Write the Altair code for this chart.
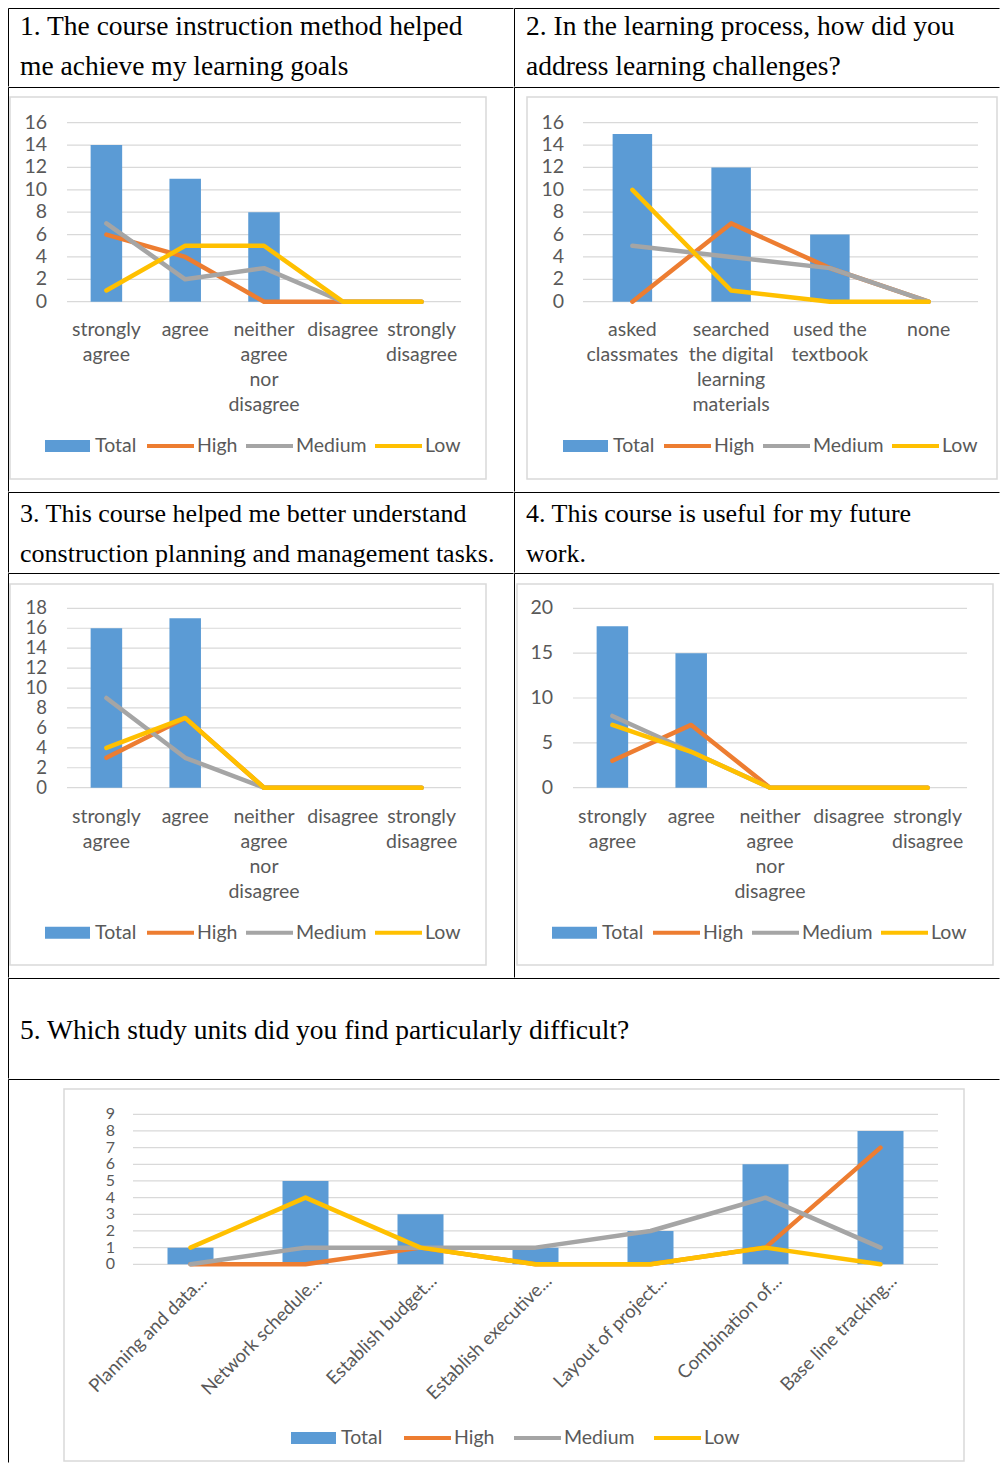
import altair as alt
import pandas as pd

FONT_SANS = "Lato"
FONT_SERIF = "Liberation Serif"
LABEL_COLOR = "#595959"
GRID_COLOR = "#d9d9d9"
SERIES_COLORS = ["#5B9BD5", "#ED7D31", "#A5A5A5", "#FFC000"]
LINE_SERIES = ["High", "Medium", "Low"]

# ---------------- titles ----------------
title_1 = ["1. The course instruction method helped", "me achieve my learning goals"]
title_2 = ["2. In the learning process, how did you", "address learning challenges?"]
title_3 = ["3. This course helped me better understand", "construction planning and management tasks."]
title_4 = ["4. This course is useful for my future", "work."]
title_5 = ["5. Which study units did you find particularly difficult?"]

# ---------------- data ----------------
likert_categories = ["strongly agree", "agree", "neither agree nor disagree", "disagree", "strongly disagree"]
likert_labels = ["strongly\nagree", "agree", "neither\nagree\nnor\ndisagree", "disagree", "strongly\ndisagree"]

q1_total = [14, 11, 8, 0, 0]
q1_high = [6, 4, 0, 0, 0]
q1_medium = [7, 2, 3, 0, 0]
q1_low = [1, 5, 5, 0, 0]
q1_ticks = [0, 2, 4, 6, 8, 10, 12, 14, 16]

q2_categories = ["asked classmates", "searched the digital learning materials", "used the textbook", "none"]
q2_labels = ["asked\nclassmates", "searched\nthe digital\nlearning\nmaterials", "used the\ntextbook", "none"]
q2_total = [15, 12, 6, 0]
q2_high = [0, 7, 3, 0]
q2_medium = [5, 4, 3, 0]
q2_low = [10, 1, 0, 0]
q2_ticks = [0, 2, 4, 6, 8, 10, 12, 14, 16]

q3_total = [16, 17, 0, 0, 0]
q3_high = [3, 7, 0, 0, 0]
q3_medium = [9, 3, 0, 0, 0]
q3_low = [4, 7, 0, 0, 0]
q3_ticks = [0, 2, 4, 6, 8, 10, 12, 14, 16, 18]

q4_total = [18, 15, 0, 0, 0]
q4_high = [3, 7, 0, 0, 0]
q4_medium = [8, 4, 0, 0, 0]
q4_low = [7, 4, 0, 0, 0]
q4_ticks = [0, 5, 10, 15, 20]

q5_categories = ["Planning and data...", "Network schedule...", "Establish budget...",
                 "Establish executive...", "Layout of project...", "Combination of...",
                 "Base line tracking..."]
q5_total = [1, 5, 3, 1, 2, 6, 8]
q5_high = [0, 0, 1, 0, 0, 1, 7]
q5_medium = [0, 1, 1, 1, 2, 4, 1]
q5_low = [1, 4, 1, 0, 0, 1, 0]
q5_ticks = [0, 1, 2, 3, 4, 5, 6, 7, 8, 9]

# ---------------- layout (styles, cell coordinates) ----------------
COL1_W, COL2_W, FULL_W = 506, 486, 992
TITLE_H = [79, 81, 101]
CHART_H = [405, 405, 384]

geo_1 = dict(box=(2, 10, 478, 392), x0=59, x1=453, yb=214.7, yt=35.7, lab_r=39, cat_y=234,
             leg_y=359, leg_total=37, leg_line=139, col_pad=0)
geo_2 = dict(box=(13, 10, 483, 392), x0=69, x1=464, yb=214.7, yt=35.7, lab_r=50, cat_y=234,
             leg_y=359, leg_total=49, leg_line=150, col_pad=0)
geo_3 = dict(box=(2, 11, 478, 392), x0=59, x1=453, yb=214.7, yt=35.3, lab_r=39, cat_y=235,
             leg_y=359.7, leg_total=37, leg_line=139, col_pad=0)
geo_4 = dict(box=(3, 11, 479, 392), x0=59, x1=453, yb=214.7, yt=35.3, lab_r=39, cat_y=235,
             leg_y=359.7, leg_total=38, leg_line=139, col_pad=0)
geo_5 = dict(box=(56, 10, 956, 382), x0=125, x1=930, yb=185.3, yt=35.3, lab_r=107, cat_y=199,
             leg_y=359, leg_total=283, leg_line=396, col_pad=11)

ONE = alt.Data(values=[{"a": 1}])


def borders(w, h):
    top = alt.Chart(ONE).mark_rule(color="black", strokeWidth=1).encode(
        x=alt.value(0.5), x2=alt.value(w - 0.5), y=alt.value(0.5))
    left = alt.Chart(ONE).mark_rule(color="black", strokeWidth=1).encode(
        x=alt.value(0.5), y=alt.value(0.5), y2=alt.value(h - 0.5))
    return [top, left]


def title_cell(lines, w, h, y0, fs):
    df = pd.DataFrame({"line": list(range(len(lines))), "t": lines})
    y_end = y0 + 40 * (len(lines) - 1)
    txt = alt.Chart(df).mark_text(
        align="left", baseline="alphabetic", font=FONT_SERIF, fontSize=fs, color="black"
    ).encode(
        x=alt.value(12),
        y=alt.Y("line:O", scale=alt.Scale(domain=list(range(len(lines))), range=[y0, y_end],
                                          padding=0), axis=None),
        text="t:N",
    )
    return alt.layer(*borders(w, h), txt).properties(width=w, height=h)


def chart_cell(cats, labels, total, high, medium, low, ticks, g, w, h,
               rotated=False, tick_size=19.5):
    rows = []
    for i, c in enumerate(cats):
        rows.append({"cat": c, "series": "Total", "value": total[i]})
        rows.append({"cat": c, "series": "High", "value": high[i]})
        rows.append({"cat": c, "series": "Medium", "value": medium[i]})
        rows.append({"cat": c, "series": "Low", "value": low[i]})
    df = pd.DataFrame(rows)
    tick_df = pd.DataFrame({"tick": ticks})
    lab_df = pd.DataFrame({"cat": cats, "label": labels})

    xs = alt.Scale(domain=cats, range=[g["x0"], g["x1"]], paddingInner=0.6, paddingOuter=0.3)
    ys = alt.Scale(domain=[ticks[0], ticks[-1]], range=[g["yb"], g["yt"]], nice=False)
    X = alt.X("cat:N", scale=xs, axis=None)

    bx0, by0, bx1, by1 = g["box"]
    box = alt.Chart(ONE).mark_rect(
        fill="white", stroke=GRID_COLOR, strokeWidth=1.5
    ).encode(x=alt.value(bx0), x2=alt.value(bx1), y=alt.value(by0), y2=alt.value(by1))

    grid = alt.Chart(tick_df).mark_rule(color=GRID_COLOR, strokeWidth=1.2).encode(
        y=alt.Y("tick:Q", scale=ys, axis=None), x=alt.value(g["x0"]), x2=alt.value(g["x1"]))

    tick_lab = alt.Chart(tick_df).mark_text(
        align="right", baseline="middle", font=FONT_SANS, fontSize=tick_size, color=LABEL_COLOR
    ).encode(y=alt.Y("tick:Q", scale=ys, axis=None), x=alt.value(g["lab_r"]), text="tick:Q")

    fill_legend = alt.Legend(
        title=None, orient="none", legendX=g["leg_total"], legendY=g["leg_y"] - 22.5,
        symbolType="M-1,-0.27L1,-0.27L1,0.27L-1,0.27Z", symbolSize=2025, symbolStrokeWidth=0,
        labelFont=FONT_SANS, labelFontSize=19.5, labelColor=LABEL_COLOR, labelOffset=5,
        padding=0, direction="horizontal")
    bars = alt.Chart(df).transform_filter(alt.datum.series == "Total").mark_bar().encode(
        x=X, y=alt.Y("value:Q", scale=ys, axis=None),
        fill=alt.Fill("series:N", scale=alt.Scale(domain=["Total"], range=[SERIES_COLORS[0]]),
                      legend=fill_legend))

    stroke_legend = alt.Legend(
        title=None, orient="none", legendX=g["leg_line"] - 2, legendY=g["leg_y"] - 25.5,
        symbolType="stroke", symbolSize=2209, symbolStrokeWidth=4,
        labelFont=FONT_SANS, labelFontSize=19.5, labelColor=LABEL_COLOR, labelOffset=1,
        columnPadding=g["col_pad"], padding=0, direction="horizontal")
    line_layers = []
    for s in LINE_SERIES:
        line_layers.append(
            alt.Chart(df).transform_filter(alt.datum.series == s).mark_line(
                strokeWidth=4.5, strokeCap="round", strokeJoin="round"
            ).encode(
                x=X, y=alt.Y("value:Q", scale=ys, axis=None),
                stroke=alt.Stroke("series:N",
                                  scale=alt.Scale(domain=LINE_SERIES, range=SERIES_COLORS[1:]),
                                  legend=stroke_legend)))

    if rotated:
        cat_lab = alt.Chart(lab_df).mark_text(
            align="right", baseline="middle", angle=315, xOffset=13,
            font=FONT_SANS, fontSize=18.5, color=LABEL_COLOR
        ).encode(x=X, y=alt.value(g["cat_y"]), text="label:N")
    else:
        cat_lab = alt.Chart(lab_df).mark_text(
            align="center", baseline="top", lineBreak="\n", lineHeight=25,
            font=FONT_SANS, fontSize=19.5, color=LABEL_COLOR
        ).encode(x=X, y=alt.value(g["cat_y"]), text="label:N")

    return alt.layer(*borders(w, h), box, grid, tick_lab, bars, *line_layers,
                     cat_lab).properties(width=w, height=h)


def indep(c):
    return c.resolve_scale(x="independent", y="independent", fill="independent",
                           stroke="independent").resolve_legend(fill="independent",
                                                                stroke="independent")


t1 = title_cell(title_1, COL1_W, TITLE_H[0], 27, 27.5)
t2 = title_cell(title_2, COL2_W, TITLE_H[0], 27, 27.5)
c1 = chart_cell(likert_categories, likert_labels, q1_total, q1_high, q1_medium, q1_low,
                q1_ticks, geo_1, COL1_W, CHART_H[0])
c2 = chart_cell(q2_categories, q2_labels, q2_total, q2_high, q2_medium, q2_low,
                q2_ticks, geo_2, COL2_W, CHART_H[0])
t3 = title_cell(title_3, COL1_W, TITLE_H[1], 29.5, 26)
t4 = title_cell(title_4, COL2_W, TITLE_H[1], 29.5, 26)
c3 = chart_cell(likert_categories, likert_labels, q3_total, q3_high, q3_medium, q3_low,
                q3_ticks, geo_3, COL1_W, CHART_H[1], tick_size=18.5)
c4 = chart_cell(likert_categories, likert_labels, q4_total, q4_high, q4_medium, q4_low,
                q4_ticks, geo_4, COL2_W, CHART_H[1])
t5 = title_cell(title_5, FULL_W, TITLE_H[2], 61, 27.5)
c5 = chart_cell(q5_categories, q5_categories, q5_total, q5_high, q5_medium, q5_low,
                q5_ticks, geo_5, FULL_W, CHART_H[2], rotated=True, tick_size=16)

row1t = indep(alt.hconcat(t1, t2, spacing=0))
row1c = indep(alt.hconcat(c1, c2, spacing=0))
row2t = indep(alt.hconcat(t3, t4, spacing=0))
row2c = indep(alt.hconcat(c3, c4, spacing=0))

chart = indep(alt.vconcat(row1t, row1c, row2t, row2c, t5, c5, spacing=0))
chart = chart.properties(padding=0, background="white").configure_view(stroke=None)

chart.save("out.html", embed_options={"renderer": "svg", "actions": False})
